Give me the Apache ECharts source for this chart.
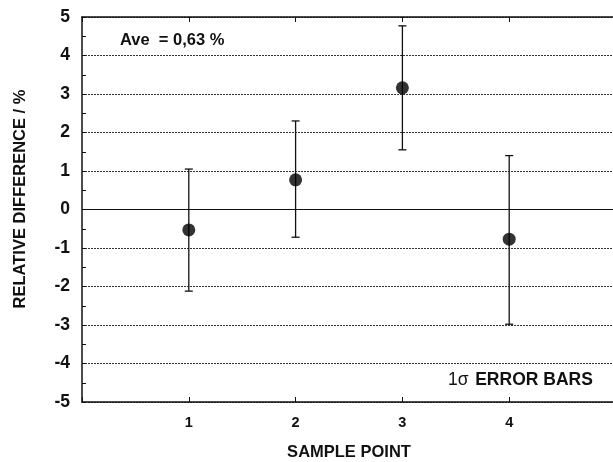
<!DOCTYPE html>
<html>
<head>
<meta charset="utf-8">
<script src="https://cdn.jsdelivr.net/npm/echarts@6/dist/echarts.min.js"></script>
<style>
  html, body { margin: 0; padding: 0; background: #fff; }
  #chart { width: 613px; height: 462px; }
</style>
</head>
<body>
<div id="chart"></div>
<script>
// sample points and their values
const samplePoints = [1, 2, 3, 4]
const relDiff = [-0.53, 0.77, 3.16, -0.77]
const errHigh = [1.05, 2.30, 4.77, 1.40]
const errLow = [-2.12, -0.72, 1.55, -2.98]
const xTickLabels = ['1', '2', '3', '4']
const aveText = 'Ave  = 0,63 %'

const font = 'Liberation Sans, Arial, sans-serif'

const chart = echarts.init(document.getElementById('chart'))

const errData = samplePoints.map((x, i) => [x, errLow[i], errHigh[i]])
const pointData = samplePoints.map((x, i) => [x, relDiff[i]])

const option = {
  animation: false,
  backgroundColor: '#fff',
  grid: { left: 82, right: -3, top: 17, bottom: 60, outerBoundsMode: 'none', containLabel: false },
  xAxis: [
    {
      type: 'value',
      min: 0,
      max: 5,
      interval: 1,
      name: 'SAMPLE POINT',
      nameLocation: 'middle',
      nameGap: 42,
      nameTextStyle: { fontFamily: font, fontWeight: 'bold', fontSize: 16.5, color: '#111' },
      axisLine: { onZero: false, lineStyle: { color: '#111', width: 1.5 } },
      axisTick: { inside: true, length: 5, lineStyle: { color: '#111' } },
      axisLabel: {
        margin: 13,
        fontFamily: font, fontWeight: 'bold', fontSize: 14.5, color: '#111',
        formatter: v => xTickLabels.includes(String(v)) ? String(v) : ''
      },
      splitLine: { show: false }
    },
    {
      type: 'value',
      position: 'top',
      min: 0,
      max: 5,
      interval: 1,
      axisLine: { onZero: false, lineStyle: { color: '#111', width: 1.5 } },
      axisTick: { inside: true, length: 5, lineStyle: { color: '#111' } },
      axisLabel: { show: false },
      splitLine: { show: false }
    }
  ],
  yAxis: {
    type: 'value',
    min: -5,
    max: 5,
    interval: 1,
    axisLine: { show: true, onZero: false, lineStyle: { color: '#111', width: 1.5 } },
    axisTick: { inside: true, length: 4, lineStyle: { color: '#111' } },
    minorTick: { show: true, splitNumber: 2, length: 4, lineStyle: { color: '#111' } },
    axisLabel: { margin: 12, fontFamily: font, fontWeight: 'bold', fontSize: 17.5, color: '#111' },
    splitLine: { show: true, lineStyle: { color: '#333', type: [2, 1], width: 1 } }
  },
  graphic: [
    {
      // y axis title, sits a little above the middle in the original
      type: 'text', x: 20, y: 199, rotation: Math.PI / 2,
      style: {
        text: 'RELATIVE DIFFERENCE / %',
        font: 'bold 16.5px ' + font, fill: '#111',
        align: 'center', verticalAlign: 'middle'
      }
    },
    {
      type: 'text', left: 120, top: 32,
      style: { text: aveText, font: 'bold 16.5px ' + font, fill: '#111' }
    },
    {
      type: 'text', left: 448, top: 371,
      style: {
        text: '{s|1σ}  {t|ERROR BARS}',
        rich: {
          s: { font: '17.5px ' + font, fill: '#111' },
          t: { font: 'bold 17.5px ' + font, fill: '#111' }
        }
      }
    }
  ],
  series: [
    {
      type: 'line',
      data: [[0, 0], [5, 0]],
      symbol: 'none',
      lineStyle: { color: '#111', width: 1.2 },
      silent: true,
      z: 1
    },
    {
      type: 'custom',
      data: errData,
      renderItem: (params, api) => {
        const lo = api.coord([api.value(0), api.value(1)])
        const hi = api.coord([api.value(0), api.value(2)])
        const cap = 4
        const style = { stroke: '#111', lineWidth: 1.3 }
        return {
          type: 'group',
          children: [
            { type: 'line', shape: { x1: hi[0], y1: hi[1], x2: lo[0], y2: lo[1] }, style },
            { type: 'line', shape: { x1: hi[0] - cap, y1: hi[1], x2: hi[0] + cap, y2: hi[1] }, style },
            { type: 'line', shape: { x1: lo[0] - cap, y1: lo[1], x2: lo[0] + cap, y2: lo[1] }, style }
          ]
        }
      },
      z: 2
    },
    {
      type: 'scatter',
      data: pointData,
      symbol: 'circle',
      symbolSize: 13,
      itemStyle: { color: '#000' },
      z: 3
    }
  ]
}

chart.setOption(option)
</script>
</body>
</html>
